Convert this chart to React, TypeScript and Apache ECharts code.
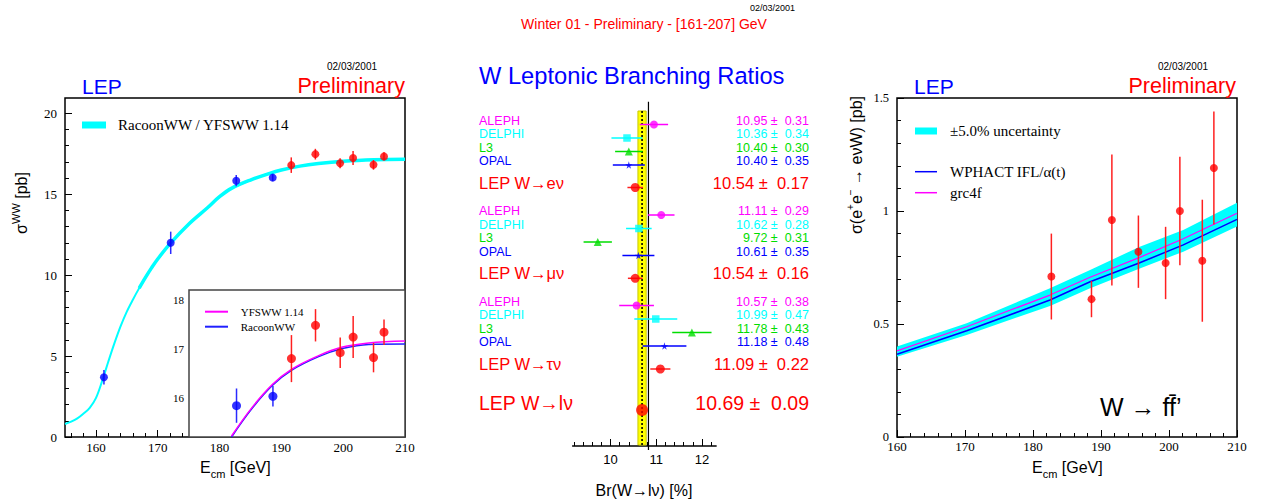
import { useEffect, useRef } from "react";
import * as echarts from "echarts";

// ================= DATA =================
// Left panel: sigma_WW measurements (published = blue, preliminary = red)
const WW_E_PUB = [161.3, 172.1, 182.7, 188.6];
const WW_SIG_PUB = [3.69, 12.0, 15.84, 16.03];
const WW_ERR_PUB = [0.45, 0.69, 0.35, 0.21];
const WW_E_PRE = [191.6, 195.5, 199.5, 201.6, 204.9, 206.6];
const WW_SIG_PRE = [16.8, 17.48, 16.92, 17.24, 16.82, 17.34];
const WW_ERR_PRE = [0.48, 0.33, 0.31, 0.43, 0.3, 0.26];
// RacoonWW / YFSWW theory curve (main plot)
const CURVE_E = [155, 156, 157, 158, 159, 160, 161, 162, 163, 164, 165, 166, 167, 168, 169, 170, 172, 175, 178, 180, 182, 185, 188, 190, 193, 196, 200, 205, 210];
const CURVE_SIG = [0.8, 0.95, 1.15, 1.45, 1.8, 2.4, 3.45, 4.65, 5.8, 6.85, 7.75, 8.5, 9.2, 9.85, 10.45, 11.0, 11.95, 13.15, 14.15, 14.85, 15.38, 15.88, 16.28, 16.5, 16.74, 16.9, 17.04, 17.13, 17.16];
// inset curves
const INSET_E = [181.9, 185.2, 188.5, 191.6, 196.0, 199.7, 204.1, 210];
const YFSWW = [15.22, 15.8, 16.27, 16.58, 16.86, 17.03, 17.12, 17.16];
const RACOONWW = [15.2, 15.78, 16.25, 16.56, 16.84, 17.0, 17.09, 17.1];

// Middle panel: W leptonic branching ratios
const EXPERIMENTS = ["ALEPH", "DELPHI", "L3", "OPAL"];
const CHANNELS = ["W\u2192e\u03bd", "W\u2192\u03bc\u03bd", "W\u2192\u03c4\u03bd"];
const BR_E = [10.95, 10.36, 10.4, 10.4];
const BR_E_ERR = [0.31, 0.34, 0.3, 0.35];
const BR_MU = [11.11, 10.62, 9.72, 10.61];
const BR_MU_ERR = [0.29, 0.28, 0.31, 0.35];
const BR_TAU = [10.57, 10.99, 11.78, 11.18];
const BR_TAU_ERR = [0.38, 0.47, 0.43, 0.48];
const LEP_BR = [10.54, 10.54, 11.09];
const LEP_BR_ERR = [0.17, 0.16, 0.22];
const LEP_LNU = 10.69;
const LEP_LNU_ERR = 0.09;
const SM_BR = 10.83;

// Right panel: sigma(e+e- -> e nu W)
const EW_E = [182.7, 188.6, 191.6, 195.5, 199.5, 201.6, 204.9, 206.6];
const EW_SIG = [0.71, 0.61, 0.96, 0.82, 0.77, 1.0, 0.78, 1.19];
const EW_ERR = [0.19, 0.08, 0.29, 0.16, 0.16, 0.24, 0.27, 0.25];
const TH_E = [160, 170.25, 182.5, 188.4, 195.7, 202.1, 210];
const WPHACT = [0.366, 0.47, 0.606, 0.687, 0.771, 0.85, 0.963];
const GRC4F = [0.381, 0.488, 0.628, 0.707, 0.795, 0.877, 0.99];
const BAND_LO = [0.355, 0.451, 0.58, 0.658, 0.746, 0.82, 0.931];
const BAND_HI = [0.4, 0.503, 0.658, 0.739, 0.842, 0.916, 1.037];

// tick labels
const X_TICKS_LEFT = [160, 170, 180, 190, 200, 210];
const Y_TICKS_LEFT = [0, 5, 10, 15, 20];
const X_TICKS_INSET = [180, 190, 200];
const Y_TICKS_INSET = [16, 17, 18];
const X_TICKS_MID = [10, 11, 12];
const X_TICKS_RIGHT = [160, 170, 180, 190, 200, 210];
const Y_TICKS_RIGHT = [0, 0.5, 1, 1.5];

// ================= LAYOUT / STYLE =================
const SANS = '"Liberation Sans", Arial, Helvetica, sans-serif';
const SERIF = '"Liberation Serif", "Times New Roman", serif';
const BLUE = "#0000ff";
const RED = "#ff0000";
const MAGENTA = "#ff00ff";
const CYAN = "#00ffff";
const GREEN = "#00dd00";
const EXP_COLORS = [MAGENTA, CYAN, GREEN, BLUE];
const STAR = "path://M50,0 L61,35 L98,35 L68,57 L79,91 L50,70 L21,91 L32,57 L2,35 L39,35 Z";
const EXP_SYMBOLS = ["circle", "rect", "triangle", STAR];
const EXP_SIZES = [8, 7.5, 8, 7.5];
const THICK_FROM = 12; // index in CURVE_E from which the theory band is drawn thicker

const MID_TOP = 100;
const ROWS_GROUP = [
  [24.5, 38, 51.5, 65],
  [115, 128.5, 142, 155.5],
  [205.5, 219, 232.5, 246],
];
const ROWS_LEP = [87.5, 178.3, 269];
const ROW_COMB = 310;

const range = (a: number, b: number, s: number, skip: number) => {
  const out: number[] = [];
  for (let v = a; v <= b + 1e-9; v += s) {
    const r = Math.round(v * 1000) / 1000;
    if (Math.abs(r / skip - Math.round(r / skip)) > 1e-6) out.push(r);
  }
  return out;
};

const vErr = (color: string, w: number) => (_p: any, api: any) => {
  const x = api.value(0), y = api.value(1), e = api.value(2);
  const a = api.coord([x, y - e]);
  const b = api.coord([x, y + e]);
  return { type: "line", shape: { x1: a[0], y1: a[1], x2: b[0], y2: b[1] }, style: { stroke: color, lineWidth: w } };
};
const hErr = (color: string, w: number) => (_p: any, api: any) => {
  const x = api.value(0), y = api.value(1), e = api.value(2);
  const a = api.coord([x - e, y]);
  const b = api.coord([x + e, y]);
  return { type: "line", shape: { x1: a[0], y1: a[1], x2: b[0], y2: b[1] }, style: { stroke: color, lineWidth: w } };
};

const majorX = (grid: number, min: number, max: number, ticks: number[], showLabel: boolean, font: string, size: number, margin: number, line = false, len = 7) => ({
  type: "value", gridIndex: grid, min, max, position: "bottom",
  axisLine: { show: line, onZero: false, lineStyle: { color: "#000", width: 1.5 } },
  splitLine: { show: false },
  axisTick: { show: true, inside: true, length: len, customValues: ticks, lineStyle: { color: "#000", width: 1 } },
  axisLabel: { show: showLabel, customValues: ticks, fontFamily: font, fontSize: size, color: "#000", margin },
});
// minor-tick axis: placed at "top" and shifted down onto the bottom edge
const minorX = (grid: number, min: number, max: number, ticks: number[], h: number, len = 4) => ({
  type: "value", gridIndex: grid, min, max, position: "top", offset: -h,
  axisLine: { show: false, onZero: false }, splitLine: { show: false },
  axisTick: { show: true, inside: false, length: len, customValues: ticks, lineStyle: { color: "#000", width: 1 } },
  axisLabel: { show: false },
});
const majorY = (grid: number, min: number, max: number, ticks: number[], size: number, margin: number, len = 7) => ({
  type: "value", gridIndex: grid, min, max, position: "left",
  axisLine: { show: false, onZero: false }, splitLine: { show: false },
  axisTick: { show: true, inside: true, length: len, customValues: ticks, lineStyle: { color: "#000", width: 1 } },
  axisLabel: { show: true, customValues: ticks, fontFamily: SERIF, fontSize: size, color: "#000", margin },
});
// minor-tick axis: placed at "right" and shifted onto the left edge
const minorY = (grid: number, min: number, max: number, ticks: number[], w: number) => ({
  type: "value", gridIndex: grid, min, max, position: "right", offset: -w,
  axisLine: { show: false, onZero: false }, splitLine: { show: false },
  axisTick: { show: true, inside: false, length: 4, customValues: ticks, lineStyle: { color: "#000", width: 1 } },
  axisLabel: { show: false },
});

const txt = (x: number, y: number, text: string, size: number, fill: string, extra: any = {}) => ({
  type: "text", x, y, z: 100,
  style: { text, fill, fontSize: size, fontFamily: SANS, align: "left", verticalAlign: "middle", ...extra },
});
const hline = (x1: number, x2: number, y: number, stroke: string, w: number) => ({
  type: "line", z: 100, shape: { x1, y1: y, x2, y2: y }, style: { stroke, lineWidth: w },
});

function buildOption() {
  const pair = (xs: number[], ys: number[]) => xs.map((x, i) => [x, ys[i]]);
  const trip = (xs: number[], ys: number[], es: number[]) => xs.map((x, i) => [x, ys[i], es[i]]);

  const series: any[] = [];
  // ---- left main
  const curve = pair(CURVE_E, CURVE_SIG);
  series.push({ type: "line", xAxisIndex: 0, yAxisIndex: 0, data: curve, smooth: 0.35, symbol: "none", lineStyle: { color: CYAN, width: 2 }, z: 2 });
  series.push({ type: "line", xAxisIndex: 0, yAxisIndex: 0, data: curve.slice(THICK_FROM), smooth: 0.35, symbol: "none", lineStyle: { color: CYAN, width: 3.5 }, z: 2 });
  series.push({ type: "custom", xAxisIndex: 0, yAxisIndex: 0, data: trip(WW_E_PUB, WW_SIG_PUB, WW_ERR_PUB), renderItem: vErr("#2a2aff", 1.5), z: 3 });
  series.push({ type: "custom", xAxisIndex: 0, yAxisIndex: 0, data: trip(WW_E_PRE, WW_SIG_PRE, WW_ERR_PRE), renderItem: vErr("#ff2020", 1.5), z: 3 });
  series.push({ type: "scatter", xAxisIndex: 0, yAxisIndex: 0, data: pair(WW_E_PUB, WW_SIG_PUB), symbol: "circle", symbolSize: 8, itemStyle: { color: BLUE }, z: 4 });
  series.push({ type: "scatter", xAxisIndex: 0, yAxisIndex: 0, data: pair(WW_E_PRE, WW_SIG_PRE), symbol: "circle", symbolSize: 8, itemStyle: { color: RED }, z: 4 });
  // ---- inset
  series.push({ type: "line", xAxisIndex: 2, yAxisIndex: 2, data: pair(INSET_E, RACOONWW), smooth: 0.4, symbol: "none", lineStyle: { color: "#2020ff", width: 1.5 }, z: 5 });
  series.push({ type: "line", xAxisIndex: 2, yAxisIndex: 2, data: pair(INSET_E, YFSWW), smooth: 0.4, symbol: "none", lineStyle: { color: MAGENTA, width: 1.5 }, z: 5 });
  series.push({ type: "custom", xAxisIndex: 2, yAxisIndex: 2, data: trip(WW_E_PUB, WW_SIG_PUB, WW_ERR_PUB).slice(2), renderItem: vErr("#2a2aff", 1.5), z: 6 });
  series.push({ type: "custom", xAxisIndex: 2, yAxisIndex: 2, data: trip(WW_E_PRE, WW_SIG_PRE, WW_ERR_PRE), renderItem: vErr("#ff2020", 1.5), z: 6 });
  series.push({ type: "scatter", xAxisIndex: 2, yAxisIndex: 2, data: pair(WW_E_PUB, WW_SIG_PUB).slice(2), symbol: "circle", symbolSize: 9, itemStyle: { color: BLUE }, z: 7 });
  series.push({ type: "scatter", xAxisIndex: 2, yAxisIndex: 2, data: pair(WW_E_PRE, WW_SIG_PRE), symbol: "circle", symbolSize: 9, itemStyle: { color: RED }, z: 7 });

  // ---- middle: band + lines
  series.push({
    type: "custom", xAxisIndex: 4, yAxisIndex: 3, z: 1,
    data: [[LEP_LNU - LEP_LNU_ERR, LEP_LNU + LEP_LNU_ERR, LEP_LNU, SM_BR]],
    renderItem: (_p: any, api: any) => {
      const lo = api.value(0), hi = api.value(1), c = api.value(2), sm = api.value(3);
      const a = api.coord([lo, 11]);
      const b = api.coord([hi, 345]);
      const c1 = api.coord([c, 11]);
      const c2 = api.coord([c, 345]);
      const s1 = api.coord([sm, 1.7]);
      const s2 = api.coord([sm, 350]);
      return {
        type: "group",
        children: [
          { type: "rect", shape: { x: a[0], y: a[1], width: b[0] - a[0], height: b[1] - a[1] }, style: { fill: "#ffff00", stroke: "#c8c800", lineWidth: 1 } },
          { type: "line", shape: { x1: c1[0], y1: c1[1], x2: c2[0], y2: c2[1] }, style: { stroke: "#000", lineWidth: 1.6, lineDash: [2, 2] } },
          { type: "line", shape: { x1: s1[0], y1: s1[1], x2: s2[0], y2: s2[1] }, style: { stroke: "#000", lineWidth: 1.2 } },
        ],
      };
    },
  });
  const groups = [[BR_E, BR_E_ERR], [BR_MU, BR_MU_ERR], [BR_TAU, BR_TAU_ERR]];
  EXPERIMENTS.forEach((_name, k) => {
    const data = groups.map(([v, e], g) => [v[k], ROWS_GROUP[g][k], e[k]]);
    series.push({ type: "custom", xAxisIndex: 4, yAxisIndex: 3, data, renderItem: hErr(EXP_COLORS[k], 1.5), z: 3 });
    series.push({ type: "scatter", xAxisIndex: 4, yAxisIndex: 3, data: data.map((d) => [d[0], d[1]]), symbol: EXP_SYMBOLS[k], symbolSize: EXP_SIZES[k], itemStyle: { color: EXP_COLORS[k] }, z: 4 });
  });
  const lepData = LEP_BR.map((v, g) => [v, ROWS_LEP[g], LEP_BR_ERR[g]]);
  series.push({ type: "custom", xAxisIndex: 4, yAxisIndex: 3, data: lepData, renderItem: hErr("#ff2020", 1.5), z: 3 });
  series.push({ type: "scatter", xAxisIndex: 4, yAxisIndex: 3, data: lepData.map((d) => [d[0], d[1]]), symbol: "circle", symbolSize: 9, itemStyle: { color: RED }, z: 4 });
  series.push({ type: "scatter", xAxisIndex: 4, yAxisIndex: 3, data: [[LEP_LNU, ROW_COMB]], symbol: "circle", symbolSize: 12, itemStyle: { color: RED }, z: 4 });

  // ---- right
  series.push({
    type: "custom", xAxisIndex: 6, yAxisIndex: 4, z: 1,
    data: TH_E.map((e, i) => [e, BAND_LO[i], BAND_HI[i]]),
    renderItem: (p: any, api: any) => {
      if (p.dataIndex !== 0) return null;
      const pts: number[][] = [];
      TH_E.forEach((e, i) => pts.push(api.coord([e, BAND_HI[i]])));
      for (let i = TH_E.length - 1; i >= 0; i--) pts.push(api.coord([TH_E[i], BAND_LO[i]]));
      return { type: "polygon", shape: { points: pts }, style: { fill: CYAN } };
    },
  });
  series.push({ type: "line", xAxisIndex: 6, yAxisIndex: 4, data: pair(TH_E, WPHACT), symbol: "none", lineStyle: { color: BLUE, width: 1.5 }, z: 2 });
  series.push({ type: "line", xAxisIndex: 6, yAxisIndex: 4, data: pair(TH_E, GRC4F), symbol: "none", lineStyle: { color: MAGENTA, width: 1.2 }, z: 2 });
  series.push({ type: "custom", xAxisIndex: 6, yAxisIndex: 4, data: trip(EW_E, EW_SIG, EW_ERR), renderItem: vErr("#ff2020", 1.5), z: 3 });
  series.push({ type: "scatter", xAxisIndex: 6, yAxisIndex: 4, data: pair(EW_E, EW_SIG), symbol: "circle", symbolSize: 8, itemStyle: { color: RED }, z: 4 });

  // ---- graphics
  const g: any[] = [];
  g.push(txt(750, 8, "02/03/2001", 9, "#000"));
  g.push(txt(644, 24, "Winter 01 - Preliminary - [161-207] GeV", 14, RED, { align: "center" }));
  // left panel
  g.push(txt(327, 66, "02/03/2001", 10, "#000"));
  g.push(txt(82, 86, "LEP", 21, BLUE));
  g.push(txt(405, 86, "Preliminary", 21.5, RED, { align: "right" }));
  g.push({ type: "rect", z: 100, shape: { x: 82, y: 121.5, width: 24, height: 7 }, style: { fill: CYAN } });
  g.push(txt(118, 125, "RacoonWW / YFSWW 1.14", 15, "#000", { fontFamily: SERIF }));
  g.push(hline(205, 228, 311.7, MAGENTA, 2));
  g.push(txt(240.7, 311.7, "YFSWW 1.14", 11, "#000", { fontFamily: SERIF }));
  g.push(hline(205, 228, 326.7, "#2020ff", 2));
  g.push(txt(240.7, 326.7, "RacoonWW", 11, "#000", { fontFamily: SERIF }));
  g.push({
    type: "text", x: 21, y: 203, rotation: Math.PI / 2, z: 100,
    style: {
      text: "{a|\u03c3}{b|WW}{a| [pb]}", align: "center", verticalAlign: "middle", fill: "#000",
      rich: {
        a: { fontSize: 16, fontFamily: SANS, lineHeight: 22, verticalAlign: "middle" },
        b: { fontSize: 11, fontFamily: SANS, lineHeight: 11, verticalAlign: "top" },
      },
    },
  });
  const ecm = (x: number) => ({
    type: "text", x, y: 467, z: 100,
    style: {
      text: "{a|E}{c|cm}{a| [GeV]}", align: "left", verticalAlign: "middle", fill: "#000",
      rich: {
        a: { fontSize: 16, fontFamily: SANS, lineHeight: 24, verticalAlign: "middle" },
        c: { fontSize: 11, fontFamily: SANS, lineHeight: 11, verticalAlign: "bottom" },
      },
    },
  });
  g.push(ecm(200));
  // middle panel
  g.push(txt(479, 76, "W Leptonic Branching Ratios", 23.7, BLUE));
  const grpVals = [[BR_E, BR_E_ERR], [BR_MU, BR_MU_ERR], [BR_TAU, BR_TAU_ERR]];
  grpVals.forEach(([v, e], gi) => {
    EXPERIMENTS.forEach((name, k) => {
      const y = MID_TOP + ROWS_GROUP[gi][k] - 3.7;
      g.push(txt(479, y, name, 12.5, EXP_COLORS[k]));
      g.push(txt(809, y, `${v[k].toFixed(2)} \u00b1  ${e[k].toFixed(2)}`, 12.5, EXP_COLORS[k], { align: "right" }));
    });
    const y = MID_TOP + ROWS_LEP[gi] - 5;
    g.push(txt(479, y, `LEP ${CHANNELS[gi]}`, 16.5, RED));
    g.push(txt(809, y, `${LEP_BR[gi].toFixed(2)} \u00b1  ${LEP_BR_ERR[gi].toFixed(2)}`, 16.5, RED, { align: "right" }));
  });
  g.push(txt(479, MID_TOP + ROW_COMB - 6.7, "LEP W\u2192l\u03bd", 19.5, RED));
  g.push(txt(809, MID_TOP + ROW_COMB - 6.7, `${LEP_LNU.toFixed(2)} \u00b1  ${LEP_LNU_ERR.toFixed(2)}`, 19.5, RED, { align: "right" }));
  g.push(txt(644, 490, "Br(W\u2192l\u03bd) [%]", 16, "#000", { align: "center" }));
  // right panel
  g.push(txt(1158, 66, "02/03/2001", 10, "#000"));
  g.push(txt(914, 86, "LEP", 21, BLUE));
  g.push(txt(1236, 86, "Preliminary", 21.5, RED, { align: "right" }));
  g.push({ type: "rect", z: 100, shape: { x: 915, y: 127.5, width: 22, height: 7 }, style: { fill: CYAN } });
  g.push(txt(950, 131, "\u00b15.0% uncertainty", 15, "#000", { fontFamily: SERIF }));
  g.push(hline(915, 937, 171.7, BLUE, 1.5));
  g.push(txt(950, 171.7, "WPHACT IFL/\u03b1(t)", 15, "#000", { fontFamily: SERIF }));
  g.push(hline(915, 937, 192.7, MAGENTA, 1.5));
  g.push(txt(950, 192.7, "grc4f", 15, "#000", { fontFamily: SERIF }));
  g.push(txt(1100, 407, "W \u2192 ff\u0304\u2019", 25, "#000"));
  g.push({
    type: "text", x: 856, y: 165, rotation: Math.PI / 2, z: 100,
    style: {
      text: "{a|\u03c3(e}{b|+}{a|e}{b|\u2212}{a| \u2192 e\u03bdW) [pb]}", align: "center", verticalAlign: "middle", fill: "#000",
      rich: {
        a: { fontSize: 16, fontFamily: SANS, lineHeight: 22, verticalAlign: "middle" },
        b: { fontSize: 10, fontFamily: SANS, lineHeight: 10, verticalAlign: "top" },
      },
    },
  });
  g.push(ecm(1032));

  return {
    animation: false,
    backgroundColor: "#fff",
    grid: [
      { left: 65, top: 98, width: 340, height: 339, show: true, borderColor: "#000", borderWidth: 1.5, backgroundColor: "transparent" },
      { left: 189, top: 290, width: 216, height: 147, show: true, borderColor: "#444", borderWidth: 1.5, backgroundColor: "#fff", z: 1 },
      { left: 572.6, top: 100, width: 143.5, height: 346, show: false },
      { left: 897, top: 98, width: 340, height: 339, show: true, borderColor: "#000", borderWidth: 1.5, backgroundColor: "transparent" },
    ],
    xAxis: [
      majorX(0, 155, 210, X_TICKS_LEFT, true, SERIF, 13, 4),
      minorX(0, 155, 210, range(156, 208, 2, 10), 339),
      majorX(1, 175, 210, X_TICKS_INSET, false, SERIF, 13, 4, false, 6),
      minorX(1, 175, 210, range(176, 208, 2, 10), 147, 3),
      majorX(2, 9.17, 12.31, X_TICKS_MID, true, SANS, 13, 7, true, 7),
      minorX(2, 9.17, 12.31, range(9.2, 12.2, 0.2, 1), 346),
      majorX(3, 160, 210, X_TICKS_RIGHT, true, SERIF, 13, 3),
      minorX(3, 160, 210, range(162, 208, 2, 10), 339),
    ],
    yAxis: [
      majorY(0, 0, 20.95, Y_TICKS_LEFT, 13, 8),
      minorY(0, 0, 20.95, range(1, 20, 1, 5), 340),
      majorY(1, 15.2, 18.2, Y_TICKS_INSET, 11, 5, 6),
      { type: "value", gridIndex: 2, min: 0, max: 346, inverse: true, show: false },
      majorY(3, 0, 1.5, Y_TICKS_RIGHT, 12.5, 8),
      minorY(3, 0, 1.5, range(0.1, 1.4, 0.1, 0.5), 340),
    ],
    series,
    graphic: g,
  };
}

export default function App() {
  const ref = useRef<HTMLDivElement>(null);
  useEffect(() => {
    if (!ref.current) return;
    const chart = echarts.init(ref.current, null, { renderer: "svg", width: 1264, height: 504 });
    chart.setOption(buildOption() as any);
    return () => chart.dispose();
  }, []);
  return (
    <div
      ref={ref}
      style={{ position: "absolute", left: 0, top: 0, width: 1264, height: 504, background: "#fff" }}
    />
  );
}
